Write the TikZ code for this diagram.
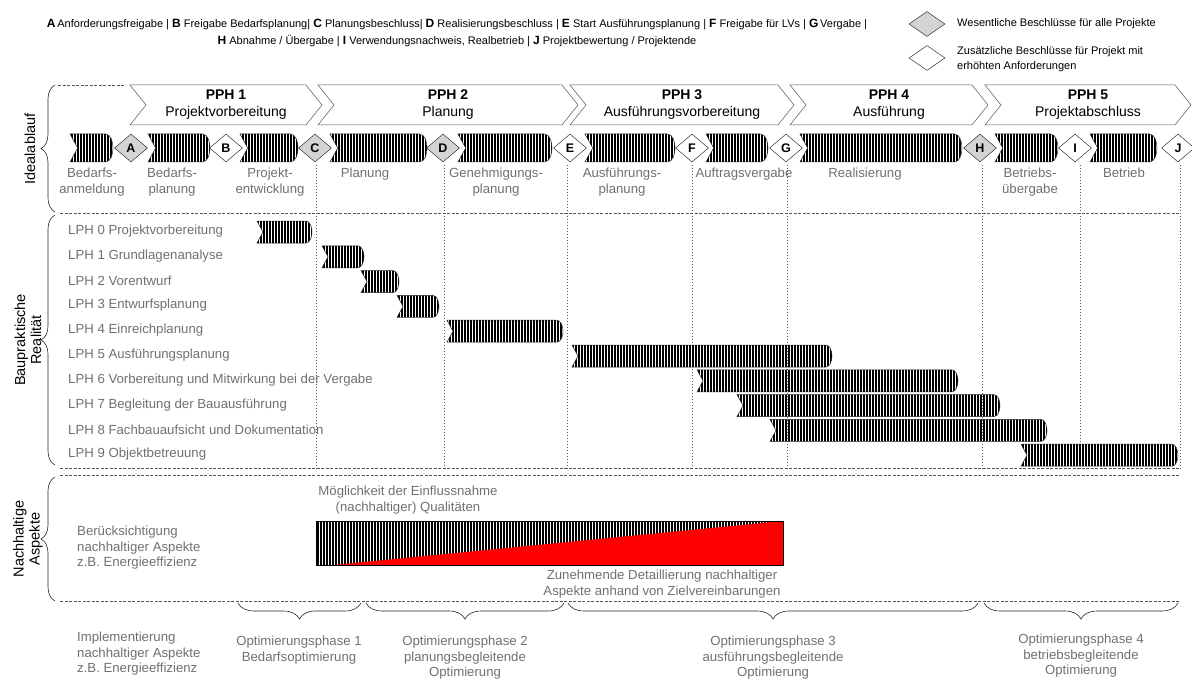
\documentclass[tikz,border=0pt]{standalone}
\usepackage{fontspec}
\setmainfont{Liberation Sans}
\usetikzlibrary{patterns.meta,decorations.pathreplacing,shapes.geometric}
\definecolor{lblgray}{RGB}{112,112,112}
\definecolor{msgray}{RGB}{212,212,212}
\definecolor{linegray}{RGB}{85,85,85}
\definecolor{hred}{RGB}{255,0,0}
% striped arrow: x1, x2, y-centre, half height
\newcommand{\strarrow}[4]{%
  \pgfmathsetmacro\dd{0.55*#4}%
  \draw[stripe] (#1,#3-#4) -- (#2-\dd,#3-#4)
    .. controls (#2-2,#3-#4) and (#2,#3-0.4*#4) .. (#2,#3)
    .. controls (#2,#3+0.4*#4) and (#2-2,#3+#4) .. (#2-\dd,#3+#4)
    -- (#1,#3+#4) -- (#1+\dd,#3) -- cycle;}
\begin{document}
\begin{tikzpicture}[x=1pt,y=-1pt,
  lbl/.style={text=lblgray,font=\fontsize{13.2}{15.5}\selectfont,inner sep=0pt,align=center},
  lphlbl/.style={text=lblgray,font=\fontsize{13.2}{15}\selectfont,anchor=west,inner sep=0pt},
  leg/.style={font=\fontsize{11}{15}\selectfont,inner sep=0pt},
  stripe/.style={draw=black!85,line width=0.5pt,pattern={Lines[angle=90,distance=3pt,line width=1.15pt]}},
  msA/.style={diamond,draw=black!80,fill=msgray,line width=0.5pt,minimum width=33pt,minimum height=28pt,inner sep=0pt,font=\fontsize{12.5}{13}\selectfont\bfseries},
  msB/.style={msA,fill=white},
  pph/.style={draw=linegray,fill=white,line width=0.5pt},
  pphtxt/.style={align=center,inner sep=0pt,font=\fontsize{14}{17}\selectfont},
  sep/.style={draw=linegray,line width=0.6pt,dash pattern=on 3pt off 1.5pt},
  vdot/.style={draw=linegray,line width=0.8pt,dash pattern=on 0.8pt off 2.2pt},
  lbrace/.style={decorate,decoration={brace,amplitude=14pt},draw=black!85,line width=0.6pt},
  bbrace/.style={decorate,decoration={brace,amplitude=16pt,mirror},draw=black!85,line width=0.6pt},
  side/.style={rotate=90,align=center,inner sep=0pt,font=\fontsize{14.5}{16}\selectfont}
 ]
\useasboundingbox (0,0) rectangle (1192,682);

% ---------- legend ----------
\node[leg] (leg1) at (457,24) {\textbf{\large A}\,Anforderungsfreigabe | \textbf{\large B} Freigabe Bedarfsplanung| \textbf{\large C} Planungsbeschluss| \textbf{\large D} Realisierungsbeschluss | \textbf{\large E} Start Ausführungsplanung | \textbf{\large F} Freigabe für LVs | \textbf{\large G}\,Vergabe |};
\node[leg] (leg2) at (457,41) {\textbf{\large H} Abnahme / Übergabe | \textbf{\large I} Verwendungsnachweis, Realbetrieb | \textbf{\large J} Projektbewertung / Projektende};
\node[msA,minimum width=36pt,minimum height=25pt] (legA) at (927,24) {};
\node[msB,minimum width=36pt,minimum height=25pt] (legB) at (927,58) {};
\node[leg,anchor=west] (legAt) at (957,24) {Wesentliche Beschlüsse für alle Projekte};
\node[leg,anchor=west,align=left] (legBt) at (957,59) {Zusätzliche Beschlüsse für Projekt mit\\erhöhten Anforderungen};

% ---------- separators ----------
\draw[sep] (58,85) -- (125,85);
\draw[sep] (60,213) -- (1180,213);
\draw[sep] (60,468) -- (1180,468);
\draw[sep] (60,475) -- (1180,475);
\draw[sep] (60,601) -- (1180,601);
\foreach \xx in {316,444,567,692,787,982,1080,1180}
  \draw[vdot] (\xx,165) -- (\xx,470);

% ---------- left braces ----------
\draw[lbrace] (55,212) -- (55,85);
\draw[lbrace] (55,465) -- (55,215);
\draw[lbrace] (55,601) -- (55,477);
\node[side] (s1) at (30,149) {Idealablauf};
\node[side] (s2) at (28,340) {Baupraktische\\Realität};
\node[side] (s3) at (28,539) {Nachhaltige\\Aspekte};

% ---------- PPH chevrons ----------
\foreach \n/\xa/\xb/\title in {1/130/306/Projektvorbereitung,2/318/562/Planung,3/570/778/Ausführungsvorbereitung,4/790/972/Ausführung,5/985/1175/Projektabschluss}{
  \draw[pph] (\xa,85) -- (\xb,85) -- (\xb+16,105) -- (\xb,125) -- (\xa,125) -- (\xa+16,105) -- cycle;
  \node[pphtxt] (pph\n) at ({(\xa+16+\xb)/2},105) {\textbf{PPH \n}\\\title};
}

% ---------- milestone row ----------
\foreach \xa/\xb in {70/113,148/210,240/298,330/427,458/552,585/675,706/768,800/962,995/1058,1090/1157}
  \strarrow{\xa}{\xb}{148}{14};
\node[msA] (A) at (131,148) {A};
\node[msB] (B) at (226,148) {B};
\node[msA] (C) at (315,148) {C};
\node[msA] (D) at (443,148) {D};
\node[msB] (E) at (570,148) {E};
\node[msB] (F) at (692,148) {F};
\node[msB] (G) at (786,148) {G};
\node[msA] (H) at (980,148) {H};
\node[msB] (I) at (1075,148) {I};
\node[msB] (J) at (1178,148) {J};

\foreach \nm/\xx/\txt in {m1/92/{Bedarfs-\\anmeldung},m2/172/{Bedarfs-\\planung},m3/270/{Projekt-\\entwicklung},m4/365/{Planung},m5/496/{Genehmigungs-\\planung},m6/622/{Ausführungs-\\planung},m7/744/{Auftragsvergabe},m8/865/{Realisierung},m9/1030/{Betriebs-\\übergabe},m10/1124/{Betrieb}}
  \node[lbl,anchor=north] (\nm) at (\xx,168) {\txt};

% ---------- LPH rows ----------
\foreach \i/\txt/\xa/\xb in {0/Projektvorbereitung/257/312,1/Grundlagenanalyse/322/364,2/Vorentwurf/361/399,3/Entwurfsplanung/397/439,4/Einreichplanung/447/563,5/Ausführungsplanung/572/832,6/{Vorbereitung und Mitwirkung bei der Vergabe}/697/958,7/{Begleitung der Bauausführung}/737/1000,8/{Fachbauaufsicht und Dokumentation}/770/1047,9/Objektbetreuung/1021/1178}{
  \pgfmathsetmacro\yy{231+24.8*\i}
  \strarrow{\xa}{\xb}{\yy+1}{11};
  \node[lphlbl] (lph\i) at (68,\yy) {LPH \i\ \txt};
}

% ---------- sustainability ----------
\node[lbl,anchor=west,align=left] (ber) at (77,548) {Berücksichtigung\\nachhaltiger Aspekte\\z.B. Energieeffizienz};
\node[lbl] (moeg) at (408,500) {Möglichkeit der Einflussnahme\\(nachhaltiger) Qualitäten};
\path[pattern={Lines[angle=90,distance=3pt,line width=1.15pt]}] (316,521) rectangle (783,565);
\fill[hred] (333,565) -- (783,521) -- (783,565) -- cycle;
\draw[black,line width=0.8pt] (316,521) rectangle (783,565);
\node[lbl] (zun) at (662,584) {Zunehmende Detaillierung nachhaltiger\\Aspekte anhand von Zielvereinbarungen};

% ---------- optimisation phases ----------
\draw[bbrace] (238,603) -- (361,603);
\draw[bbrace] (366,603) -- (564,603);
\draw[bbrace] (568,603) -- (978,603);
\draw[bbrace] (984,603) -- (1178,603);
\node[lbl,anchor=west,align=left] (impl) at (77,654) {Implementierung\\nachhaltiger Aspekte\\z.B. Energieeffizienz};
\node[lbl,anchor=north] (o1) at (299,636) {Optimierungsphase 1\\Bedarfsoptimierung};
\node[lbl,anchor=north] (o2) at (465,636) {Optimierungsphase 2\\planungsbegleitende\\Optimierung};
\node[lbl,anchor=north] (o3) at (773,636) {Optimierungsphase 3\\ausführungsbegleitende\\Optimierung};
\node[lbl,anchor=north] (o4) at (1081,634) {Optimierungsphase 4\\betriebsbegleitende\\Optimierung};
\end{tikzpicture}
\end{document}
